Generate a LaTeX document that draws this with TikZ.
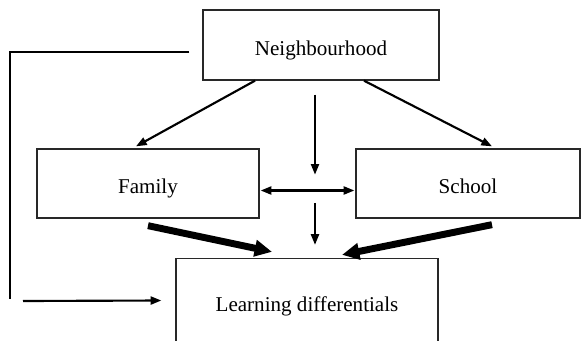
\documentclass[tikz,border=0pt]{standalone}
\usepackage{fontspec}
\setmainfont{Liberation Serif}
\usetikzlibrary{arrows.meta,calc}

\tikzset{every picture/.style={line width=0.75pt}}
\tikzset{
  factorbox/.style={draw={rgb,255:red,40;green,40;blue,40},line width=1pt,inner sep=0pt,text height=15pt,text depth=0pt,font=\fontsize{15.8}{18}\selectfont},
  thinarrow/.style={line width=1.6pt,-{Triangle[length=8pt,width=6pt]}},
  thickarrow/.style={line width=5.2pt,-{Triangle[length=13pt,width=12pt]}}
}

\begin{document}
\begin{tikzpicture}[x=0.75pt,y=0.75pt,yscale=-1,xscale=1]
%set diagram size to 585 x 340
\useasboundingbox (0,0) rectangle (585,340);
\clip (0,0) rectangle (585,340);

% Boxes
\node [factorbox,minimum width=236*0.75pt,minimum height=70*0.75pt] (nbh) at (321,45) {Neighbourhood};
\node [factorbox,minimum width=222*0.75pt,minimum height=69*0.75pt] (fam) at (148,183.5) {Family};
\node [factorbox,minimum width=224*0.75pt,minimum height=69*0.75pt] (sch) at (468,183.5) {School};
\node [factorbox,minimum width=262*0.75pt,minimum height=86*0.75pt] (learn) at (307,301.5) {Learning differentials};

% Neighbourhood effects
\draw [thinarrow] ($(nbh.south)+(-66,0)$) -- ($(fam.north)+(-12,-2)$);
\draw [thinarrow] ($(nbh.south)+(43,0)$) -- ($(sch.north)+(24,-2)$);
\draw [thinarrow] ($(nbh.south)+(-6,14)$) -- ($(nbh.south)+(-6,94)$);

% Family <-> School
\draw [thinarrow,{Triangle[length=8pt,width=6pt]}-{Triangle[length=8pt,width=6pt]}] ($(fam.east)+(1,7)$) -- ($(sch.west)+(-1,7)$);
\draw [thinarrow] ($(learn.north)+(8,-55)$) -- ($(learn.north)+(8,-13)$);

% Direct effects on learning
\draw [thickarrow] ($(fam.south)+(0,7)$) -- ($(learn.north)+(-35,-6)$);
\draw [thickarrow] ($(sch.south)+(24,6)$) -- ($(learn.north)+(35,-3)$);

% Feedback line
\coordinate (fbend) at (10,299);
\coordinate (fbstart) at (23,301);
\draw [line width=1.6pt] ($(nbh.west)+(-13,7)$) -| (fbend);
\draw [thinarrow] (fbstart) -- ($(learn.west)+(-14,-1)$);

\end{tikzpicture}
\end{document}
